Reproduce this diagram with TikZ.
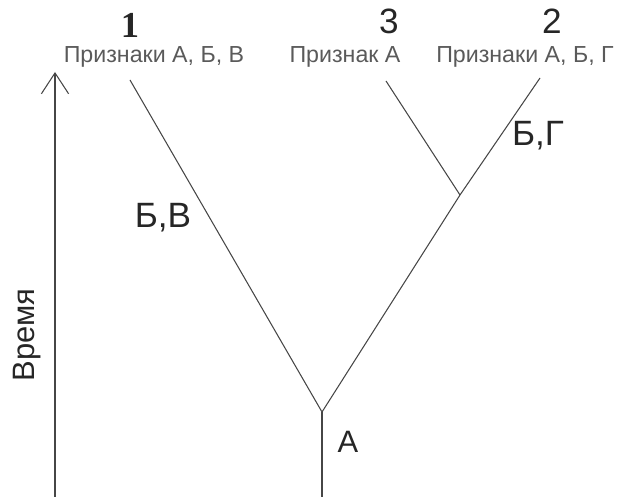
\documentclass[tikz,border=0pt]{standalone}
\usepackage{fontspec}
\setmainfont{Liberation Sans}
\newfontfamily\serifnum{Liberation Serif}
\usepackage{tikz}
\usetikzlibrary{arrows.meta, positioning}
\definecolor{mygrey}{RGB}{70,70,70}
\definecolor{mylabel}{RGB}{90,90,90}
\tikzset{
  branch/.style={line width=0.75pt, color=mygrey},
  taxon/.style={font=\fontsize{16.5}{16.5}\selectfont, color=mylabel, inner sep=0pt},
  number/.style={font=\fontsize{25}{25}\selectfont, color=black!85, inner sep=0pt},
  trait/.style={font=\fontsize{25}{25}\selectfont, color=black!85, inner sep=0pt},
  timearrow/.style={-{Straight Barb[length=0.52cm, width=0.68cm, line width=0.75pt]}, line width=0.75pt, color=mygrey}
}

\begin{document}
\begin{tikzpicture}[x=0.025cm, y=-0.025cm]
  \useasboundingbox (0,0) rectangle (619,497);

  % time axis
  \coordinate (t0) at (55,497);
  \coordinate (t1) at (55,72);
  \draw[timearrow] (t0) -- (t1);
  \node[trait, font=\fontsize{22}{22}\selectfont, rotate=90] (time) at (27,335) {Время};

  % tree
  \coordinate (base) at (322,497);
  \coordinate (root) at (322,412);
  \coordinate (fork) at (460,195);
  \coordinate (tip1) at (130,80);
  \coordinate (tip2) at (540,78);
  \coordinate (tip3) at (386,81);
  \draw[branch] (base) -- (root);
  \draw[branch] (root) -- (tip1);
  \draw[branch] (root) -- (fork) -- (tip2);
  \draw[branch] (fork) -- (tip3);

  % taxa
  \node[number, font=\serifnum\bfseries\fontsize{26}{26}\selectfont] (n1) at (130,25) {1};
  \node[taxon] (lab1) at (154,57) {Признаки А, Б, В};
  \node[number] (n3) at (389,21) {3};
  \node[taxon] (lab3) at (345,57) {Признак А};
  \node[number] (n2) at (552,21) {2};
  \node[taxon] (lab2) at (525,57) {Признаки А, Б, Г};

  % traits
  \node[trait] (bv) at (163,218) {Б,В};
  \node[trait] (bg) at (538,136) {Б,Г};
  \node[trait, font=\fontsize{22}{22}\selectfont] (a) at (348,442) {А};
\end{tikzpicture}
\end{document}
